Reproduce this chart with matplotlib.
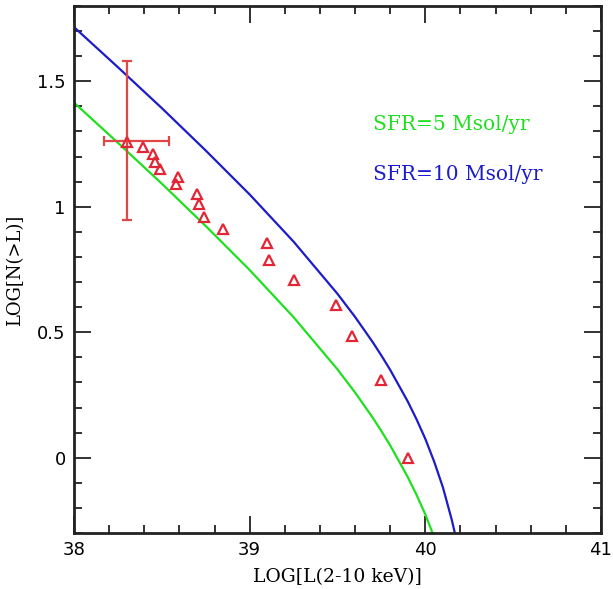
import matplotlib
matplotlib.use('Agg')
import matplotlib.pyplot as plt
from matplotlib.ticker import MultipleLocator

# model curves
green_x = [38.0, 38.25, 38.5, 38.75, 39.0, 39.25, 39.5, 39.6, 39.7, 39.75, 39.8, 39.9, 39.95, 40.0, 40.04]
green_y = [1.415, 1.255, 1.092, 0.923, 0.748, 0.560, 0.352, 0.260, 0.160, 0.106, 0.049, -0.077, -0.148, -0.226, -0.298]
blue_x = [38.0, 38.25, 38.5, 38.75, 39.0, 39.25, 39.5, 39.6, 39.7, 39.75, 39.8, 39.9, 39.95, 40.0, 40.05, 40.1, 40.15, 40.17]
blue_y = [1.716, 1.556, 1.393, 1.224, 1.049, 0.861, 0.653, 0.561, 0.461, 0.407, 0.350, 0.224, 0.153, 0.075, -0.015, -0.118, -0.246, -0.306]

# observed sources
obs_x = [38.30, 38.39, 38.45, 38.46, 38.49, 38.59, 38.58, 38.70, 38.71, 38.74, 38.85,
         39.10, 39.11, 39.25, 39.49, 39.58, 39.75, 39.90]
obs_y = [1.26, 1.24, 1.21, 1.18, 1.15, 1.12, 1.09, 1.05, 1.01, 0.96, 0.91,
         0.855, 0.787, 0.708, 0.609, 0.485, 0.308, 0.0]

# error bar on the first point
err_x, err_y = 38.30, 1.262
err_xlo, err_xhi = 0.13, 0.24
err_ylo, err_yhi = 0.313, 0.317

labels = ['SFR=5 Msol/yr', 'SFR=10 Msol/yr']

W, H = 613, 589
fig = plt.figure(figsize=(W / 100, H / 100), dpi=100)
ax = fig.add_axes([74 / W, 56 / H, 527 / W, 527 / H])

green = '#1fe01f'
blue = '#1c1cc8'
red = '#e32636'

ax.plot(green_x, green_y, color=green, lw=1.6)
ax.plot(blue_x, blue_y, color=blue, lw=1.6)
ax.errorbar([err_x], [err_y], xerr=[[err_xlo], [err_xhi]], yerr=[[err_ylo], [err_yhi]],
            fmt='none', ecolor='#e04848', elinewidth=1.6, capsize=3.5, capthick=1.6)
ax.plot(obs_x, obs_y, ls='none', marker='^', ms=7, mfc='none', mec=red, mew=1.6)

ax.set_xlim(38, 41)
ax.set_ylim(-0.3, 1.8)

ax.xaxis.set_minor_locator(MultipleLocator(0.2))
ax.yaxis.set_minor_locator(MultipleLocator(0.1))
ax.set_xticks([38, 39, 40, 41])
ax.set_xticklabels(['38', '39', '40', '41'])
ax.set_yticks([0, 0.5, 1, 1.5])
ax.set_yticklabels(['0', '0.5', '1', '1.5'])
ax.tick_params(which='both', direction='in', top=True, right=True, width=1.3, color='#222222')
ax.tick_params(which='major', length=12, labelsize=13, pad=6)
ax.tick_params(which='minor', length=6)
for lab in ax.get_xticklabels() + ax.get_yticklabels():
    lab.set_family('DejaVu Sans')
for sp in ax.spines.values():
    sp.set_linewidth(2)
    sp.set_color('#222222')

fig.text((74 + 527 / 2) / W, 1 - 577 / H, 'LOG[L(2-10 keV)]', ha='center', va='center',
         family='DejaVu Serif', fontsize=13.5)
fig.text(15 / W, 1 - 270 / H, 'LOG[N(>L)]', ha='center', va='center', rotation=90,
         family='DejaVu Serif', fontsize=13)

ax.text(39.70, 1.328, labels[0], color=green, family='DejaVu Serif', fontsize=14.5, va='center')
ax.text(39.70, 1.128, labels[1], color=blue, family='DejaVu Serif', fontsize=14.5, va='center')

fig.savefig('out.png', dpi=100)
